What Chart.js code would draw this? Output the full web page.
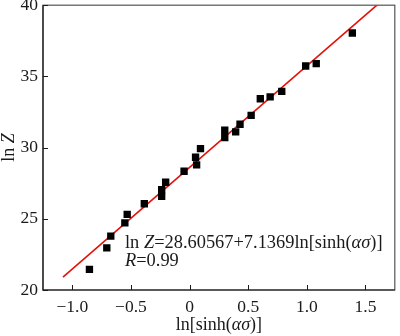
<!DOCTYPE html>
<html>
<head>
<meta charset="utf-8">
<script src="https://cdn.jsdelivr.net/npm/chart.js@4"></script>
<style>
  html, body { margin: 0; padding: 0; background: #fff; }
  #chart { display: block; }
</style>
</head>
<body>
<canvas id="chart" width="400" height="336"></canvas>
<script>
// measured points: ln[sinh(ασ)] vs ln Z
const xValues = [-0.854, -0.706, -0.672, -0.552, -0.532, -0.386, -0.238, -0.238, -0.204, -0.047,
                 0.060, 0.051, 0.093, 0.300, 0.300, 0.393, 0.430, 0.525, 0.603, 0.687,
                 0.786, 0.990, 1.080, 1.388];
const yValues = [21.45, 22.96, 23.78, 24.71, 25.31, 26.06, 26.57, 27.04, 27.57, 28.34,
                 28.79, 29.32, 29.93, 30.70, 31.22, 31.10, 31.64, 32.26, 33.43, 33.56,
                 33.95, 35.73, 35.90, 38.05];

// linear fit from the equation label
const fitIntercept = 28.60567;
const fitSlope = 7.1369;
const fitRange = [-1.08, 1.6];

const xTicks = [-1.0, -0.5, 0, 0.5, 1.0, 1.5];
const yTicks = [20, 25, 30, 35, 40];

const SERIF = '"Liberation Serif", "Times New Roman", serif';
const INK = '#1a1a1a';

const points = xValues.map((x, i) => ({ x: x, y: yValues[i] }));
const fitLine = fitRange.map(x => ({ x: x, y: fitIntercept + fitSlope * x }));

// draw a run of text pieces, some italic
function drawRuns(ctx, runs, x, y, size, align) {
  let total = 0;
  runs.forEach(r => {
    ctx.font = (r.it ? 'italic ' : '') + size + 'px ' + SERIF;
    r.w = ctx.measureText(r.t).width;
    total += r.w;
  });
  let cx = align === 'center' ? x - total / 2 : x;
  runs.forEach(r => {
    ctx.font = (r.it ? 'italic ' : '') + size + 'px ' + SERIF;
    ctx.fillText(r.t, cx, y);
    cx += r.w;
  });
}

const framePlugin = {
  id: 'frame',
  afterDraw(chart) {
    const ctx = chart.ctx;
    const a = chart.chartArea;
    const sx = chart.scales.x, sy = chart.scales.y;
    ctx.save();
    // box around plot
    ctx.strokeStyle = '#555';
    ctx.lineWidth = 1.2;
    ctx.strokeRect(a.left, a.top, a.right - a.left, a.bottom - a.top);
    ctx.strokeStyle = INK;
    ctx.beginPath();
    ctx.moveTo(a.left, a.top);
    ctx.lineTo(a.left, a.bottom);
    ctx.lineTo(a.right, a.bottom);
    ctx.stroke();
    // inward ticks
    ctx.lineWidth = 1;
    ctx.beginPath();
    xTicks.forEach(v => {
      const px = Math.round(sx.getPixelForValue(v)) + 0.5;
      ctx.moveTo(px, a.bottom);
      ctx.lineTo(px, a.bottom - 5);
    });
    yTicks.forEach(v => {
      const py = Math.round(sy.getPixelForValue(v)) + 0.5;
      ctx.moveTo(a.left, py);
      ctx.lineTo(a.left + 5, py);
    });
    ctx.stroke();

    ctx.fillStyle = INK;
    ctx.textBaseline = 'alphabetic';
    // axis titles
    drawRuns(ctx, [{ t: 'ln[sinh(' }, { t: 'ασ', it: true }, { t: ')]' }],
      (a.left + a.right) / 2, 330, 18, 'center');
    ctx.save();
    ctx.translate(14, (a.top + a.bottom) / 2);
    ctx.rotate(-Math.PI / 2);
    drawRuns(ctx, [{ t: 'ln ' }, { t: 'Z', it: true }], 0, 0, 18, 'center');
    ctx.restore();
    // fit equation
    drawRuns(ctx, [{ t: 'ln ' }, { t: 'Z', it: true }, { t: '=28.60567+7.1369ln[sinh(' },
      { t: 'ασ', it: true }, { t: ')]' }], 125, 248, 18.4, 'left');
    drawRuns(ctx, [{ t: 'R', it: true }, { t: '=0.99' }], 125, 266, 18.4, 'left');
    ctx.restore();
  }
};

new Chart(document.getElementById('chart'), {
  type: 'scatter',
  data: {
    datasets: [
      {
        label: 'data',
        data: points,
        pointStyle: 'rect',
        pointRadius: 5.2,
        backgroundColor: '#000',
        borderColor: '#000',
        borderWidth: 0
      },
      {
        label: 'fit',
        type: 'line',
        data: fitLine,
        borderColor: '#e3120b',
        borderWidth: 1.6,
        pointRadius: 0,
        fill: false
      }
    ]
  },
  options: {
    responsive: false,
    animation: false,
    devicePixelRatio: 1,
    layout: { padding: { top: 4, right: 1.5, left: 0, bottom: 0 } },
    plugins: { legend: { display: false }, tooltip: { enabled: false } },
    scales: {
      x: {
        type: 'linear',
        min: -1.25,
        max: 1.75,
        afterBuildTicks: s => { s.ticks = xTicks.map(v => ({ value: v })); },
        afterFit: s => { s.height = 46; s.paddingLeft = 0; s.paddingRight = 0; },
        grid: { display: false, drawTicks: false },
        border: { display: false },
        ticks: {
          padding: 7,
          color: INK,
          font: { family: SERIF, size: 17.5 },
          callback: v => (v < 0 ? '\u2212' : '') + Math.abs(v).toFixed(v === 0 ? 0 : 1)
        }
      },
      y: {
        min: 20,
        max: 40,
        afterBuildTicks: s => { s.ticks = yTicks.map(v => ({ value: v })); },
        afterFit: s => { s.width = 43; s.paddingTop = 0; s.paddingBottom = 0; },
        grid: { display: false, drawTicks: false },
        border: { display: false },
        ticks: {
          padding: 5,
          color: INK,
          font: { family: SERIF, size: 17.5 }
        }
      }
    }
  },
  plugins: [framePlugin]
});
</script>
</body>
</html>
